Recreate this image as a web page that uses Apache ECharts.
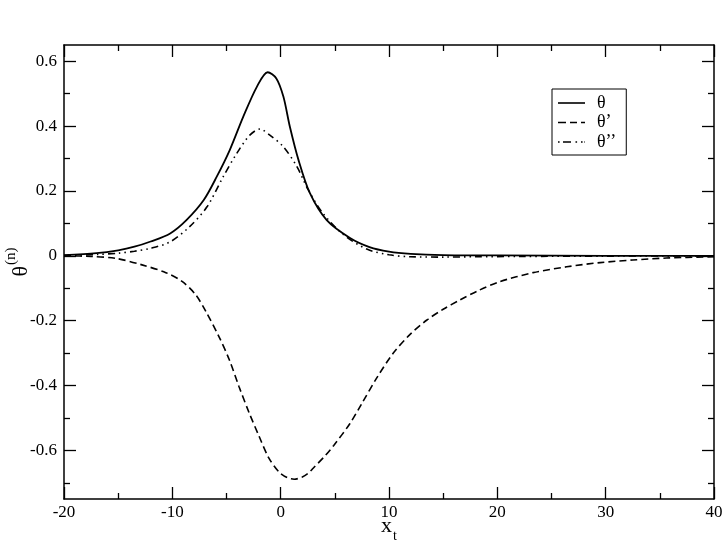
<!DOCTYPE html>
<html><head><meta charset="utf-8">
<script src="https://cdn.jsdelivr.net/npm/echarts@6/dist/echarts.min.js"></script>
<style>html,body{margin:0;padding:0;background:#fff}#c{width:725px;height:547px}</style>
</head><body><div id="c"></div><script>
// ---- data ----
const xTickValues = [-20, -10, 0, 10, 20, 30, 40];
const yTickLabels = [-0.6, -0.4, -0.2, 0, 0.2, 0.4, 0.6];
const yMinorTicks = [-0.7, -0.5, -0.3, -0.1, 0.1, 0.3, 0.5];
const seriesNames = ['θ', 'θ’', 'θ’’'];

const thetaX = [-20, -17, -15, -13.5, -12, -10.2, -8.7, -7.1, -5.9, -4.7, -3.45, -2.2, -1.2, -0.4, 0.25, 0.85, 1.65, 2.7, 4.25, 6.4, 8.2, 10, 12, 15, 20, 30, 40];
const thetaY = [0.002, 0.008, 0.017, 0.028, 0.044, 0.069, 0.110, 0.172, 0.244, 0.326, 0.429, 0.521, 0.566, 0.547, 0.491, 0.398, 0.295, 0.193, 0.110, 0.055, 0.027, 0.013, 0.006, 0.002, 0.001, 0, 0];

const theta1X = [-20, -17.5, -15.2, -12.8, -10.6, -9.1, -7.85, -6.9, -5.7, -4.75, -3.85, -2.9, -2.0, -1.1, -0.15, 0.6, 1.25, 2.0, 2.6, 3.0, 4.15, 4.9, 6.4, 7.5, 8.9, 10.4, 11.9, 13.5, 15.0, 16.5, 18.2, 20.2, 23.3, 26.4, 29.5, 32.5, 35.6, 40];
const theta1Y = [0, -0.002, -0.008, -0.028, -0.052, -0.079, -0.12, -0.172, -0.249, -0.32, -0.403, -0.485, -0.556, -0.623, -0.667, -0.684, -0.689, -0.682, -0.669, -0.655, -0.615, -0.585, -0.517, -0.455, -0.375, -0.300, -0.244, -0.198, -0.165, -0.137, -0.108, -0.080, -0.052, -0.034, -0.021, -0.013, -0.007, -0.003];

const theta2X = [-20, -17, -15, -13.5, -12, -10.2, -8.4, -6.8, -5.3, -4.05, -2.85, -1.9, -1.0, 0.25, 1.5, 2.55, 3.9, 5.8, 8, 10, 12, 15, 18, 22, 30, 40];
const theta2Y = [0.001, 0.004, 0.008, 0.014, 0.023, 0.043, 0.090, 0.151, 0.244, 0.316, 0.372, 0.391, 0.372, 0.336, 0.275, 0.203, 0.131, 0.065, 0.020, 0.003, -0.003, -0.004, -0.003, -0.002, -0.001, 0];

// ---- chart ----
const FONT = 'Liberation Serif';
const zip = (xs, ys) => xs.map((x, i) => [x, ys[i]]);
const axLine = { show: true, onZero: false, lineStyle: { color: '#000', width: 1.5 } };
const tickStyle = { color: '#000', width: 1.3 };

// legend sample glyphs (solid, dashed, dash-dot-dot)
const legendIcons = [
  'path://M0,0H27V1.6H0Z',
  'path://M0,0H8V1.6H0Z M12,0H19V1.6H12Z M23,0H27V1.6H23Z',
  'path://M0,0H1.6V1.6H0Z M5,0H13V1.6H5Z M17.5,0H19.1V1.6H17.5Z M23,0H24.6V1.6H23Z M26.4,0H27V1.6H26.4Z'
];

function yAx(position, ticks, len, labels) {
  return {
    type: 'value', position: position, min: -0.75, max: 0.65, offset: 0,
    axisLine: Object.assign({}, axLine, { show: len === 12 }),
    splitLine: { show: false },
    axisTick: { show: true, inside: true, length: len, customValues: ticks, lineStyle: tickStyle },
    axisLabel: labels ? {
      show: true, customValues: ticks, margin: 7, color: '#000', fontFamily: FONT, fontSize: 17,
      formatter: v => Math.abs(v) < 1e-9 ? '0' : v.toFixed(1)
    } : { show: false }
  };
}

const chart = echarts.init(document.getElementById('c'));
chart.setOption({
  animation: false,
  backgroundColor: '#fff',
  grid: { left: 64, right: 11, top: 45, bottom: 48, containLabel: false, outerBoundsMode: 'none' },
  legend: {
    data: seriesNames.map((n, i) => ({ name: n, icon: legendIcons[i] })),
    orient: 'vertical', left: 552, top: 89,
    itemWidth: 27, itemHeight: 2, itemGap: 1.5,
    padding: [5, 10, 4, 6],
    borderColor: '#000', borderWidth: 1, backgroundColor: '#fff',
    textStyle: { color: '#000', fontFamily: FONT, fontSize: 18, padding: [0, 0, 0, 7], lineHeight: 17 }
  },
  xAxis: [
    {
      type: 'value', position: 'bottom', min: -20, max: 40, interval: 10,
      axisLine: axLine, splitLine: { show: false },
      axisTick: { show: true, inside: true, length: 12, lineStyle: tickStyle },
      minorTick: { show: true, splitNumber: 2, length: 6, lineStyle: tickStyle },
      axisLabel: { color: '#000', fontFamily: FONT, fontSize: 17, margin: 5 },
      name: '{a|x}{b|t}', nameLocation: 'middle', nameGap: 16, nameMoveOverlap: false,
      nameTextStyle: {
        rich: {
          a: { fontFamily: FONT, fontSize: 22, color: '#000', verticalAlign: 'top', lineHeight: 22 },
          b: { fontFamily: FONT, fontSize: 14, color: '#000', verticalAlign: 'bottom', lineHeight: 28, padding: [0, 0, 0, 1] }
        }
      }
    },
    {
      type: 'value', position: 'top', min: -20, max: 40, interval: 10,
      axisLine: axLine, splitLine: { show: false },
      axisTick: { show: true, inside: true, length: 12, lineStyle: tickStyle },
      minorTick: { show: true, splitNumber: 2, length: 6, lineStyle: tickStyle },
      axisLabel: { show: false }
    }
  ],
  yAxis: [
    Object.assign(yAx('left', yTickLabels, 12, true), {
      name: '{a|θ}{b|(n)}', nameLocation: 'middle', nameGap: 32, nameRotate: 90, nameMoveOverlap: false,
      nameTextStyle: {
        padding: [0, 0, 0, 20],
        rich: {
          a: { fontFamily: FONT, fontSize: 22, color: '#000', verticalAlign: 'bottom', lineHeight: 28 },
          b: { fontFamily: FONT, fontSize: 15, color: '#000', verticalAlign: 'top', lineHeight: 15, padding: [0, 0, 0, 1] }
        }
      }
    }),
    yAx('right', yTickLabels, 12, false),
    yAx('left', yMinorTicks, 6, false),
    yAx('right', yMinorTicks, 6, false)
  ],
  series: [
    { name: seriesNames[0], type: 'line', data: zip(thetaX, thetaY), symbol: 'none', smooth: 0.3,
      lineStyle: { color: '#000', width: 1.8, type: 'solid' }, itemStyle: { color: '#000' } },
    { name: seriesNames[1], type: 'line', data: zip(theta1X, theta1Y), symbol: 'none', smooth: 0.3,
      lineStyle: { color: '#000', width: 1.6, type: [7, 4] }, itemStyle: { color: '#000' } },
    { name: seriesNames[2], type: 'line', data: zip(theta2X, theta2Y), symbol: 'none', smooth: 0.3,
      lineStyle: { color: '#000', width: 1.6, type: [7, 4, 1.5, 4, 1.5, 4] }, itemStyle: { color: '#000' } }
  ]
});
</script></body></html>
